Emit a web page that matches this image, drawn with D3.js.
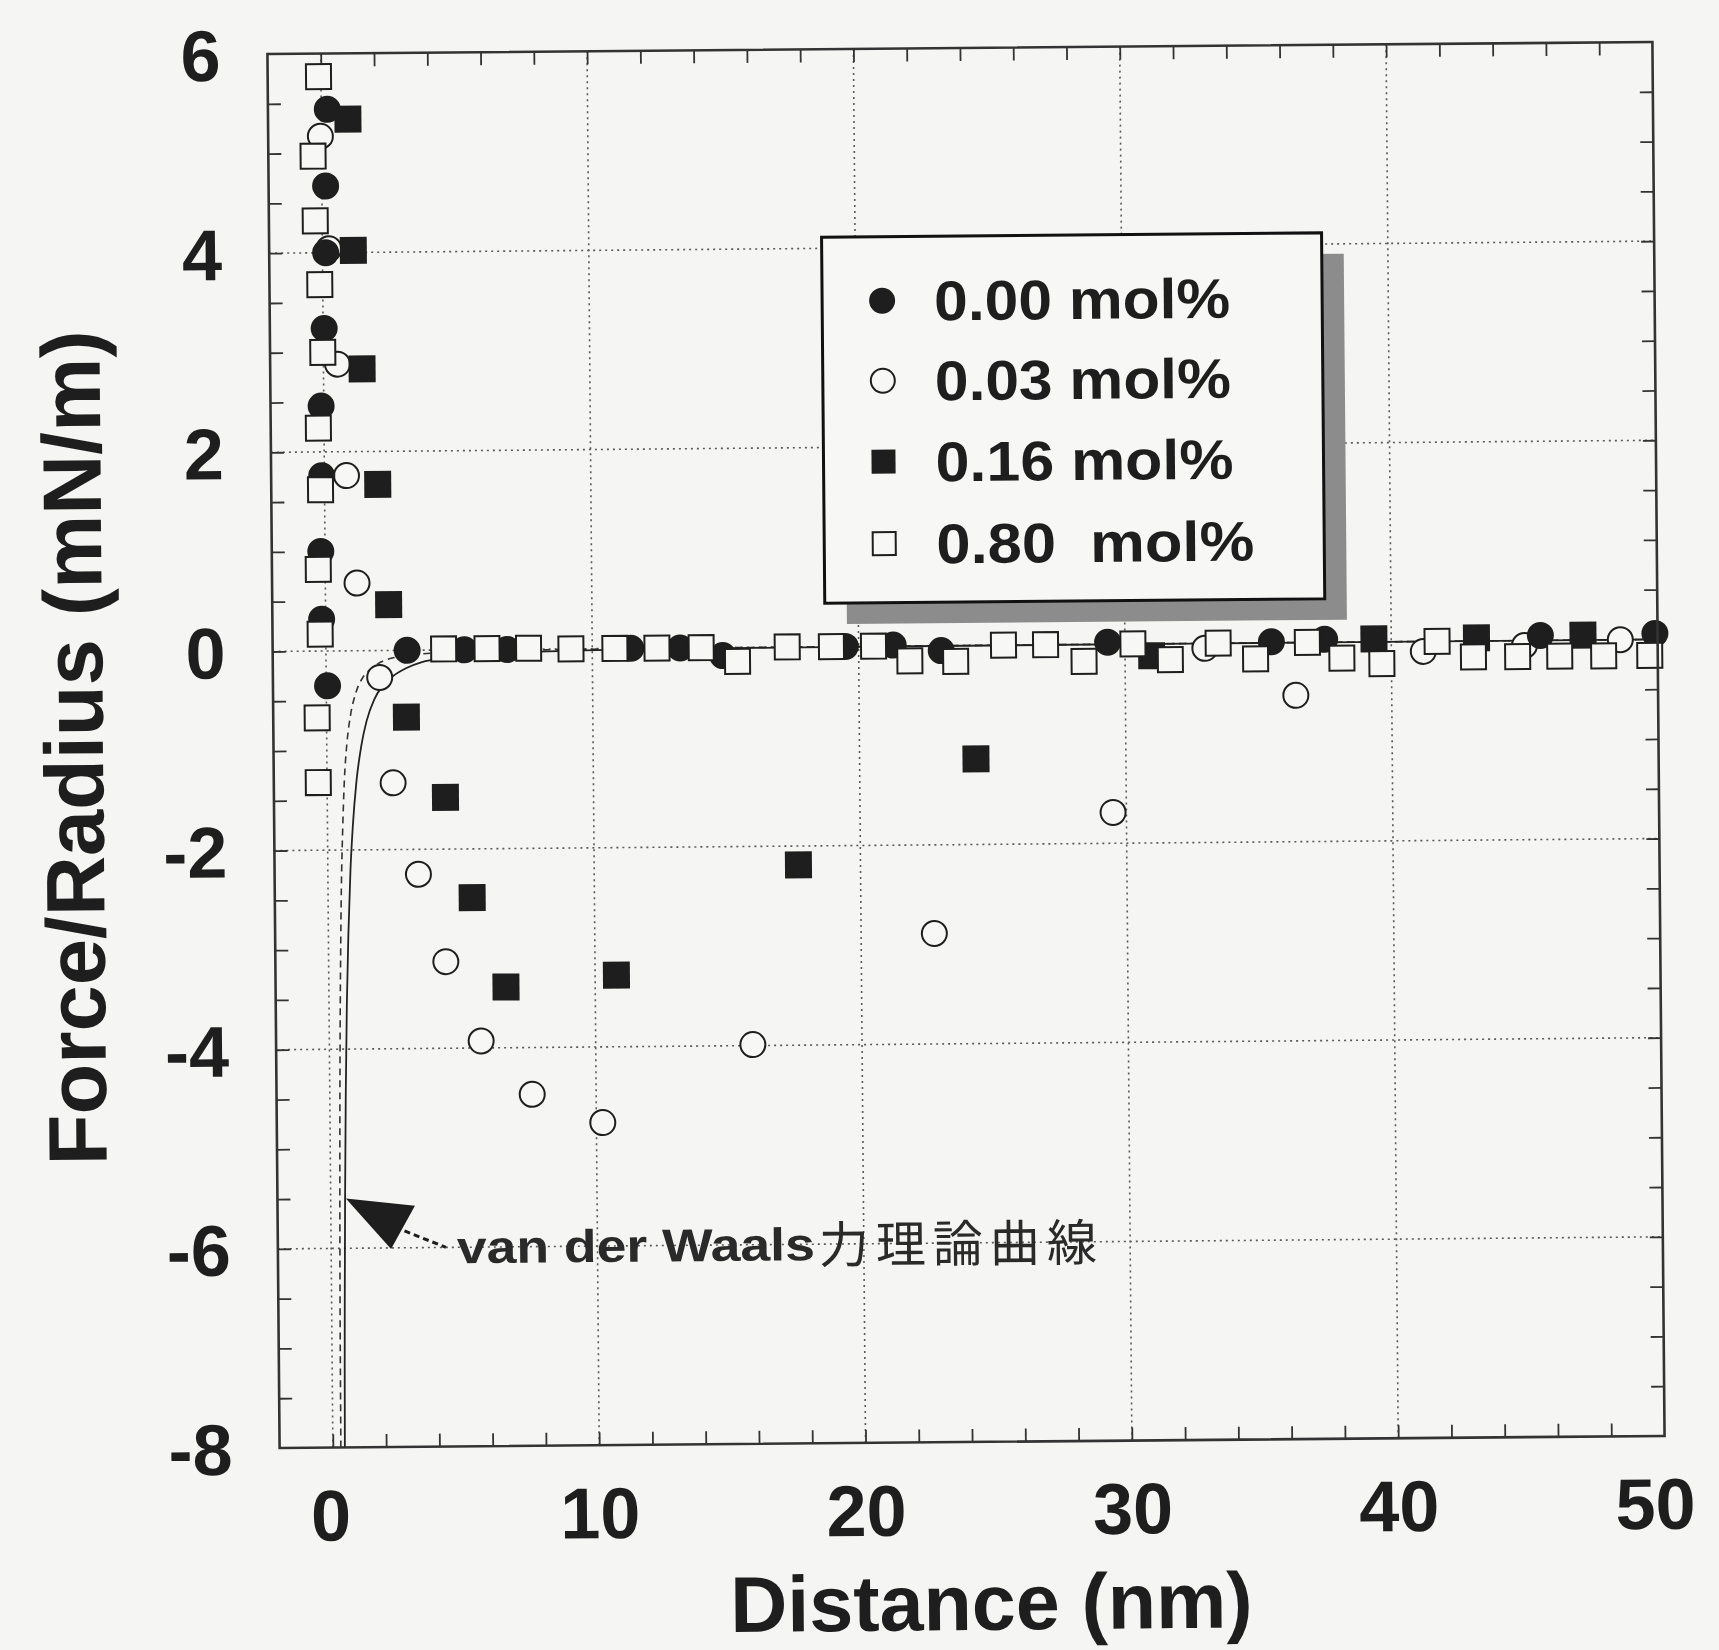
<!DOCTYPE html>
<html><head><meta charset="utf-8">
<script src="https://cdn.jsdelivr.net/npm/d3@7"></script>
<style>
html,body{margin:0;padding:0;background:#f5f5f3;}
svg{display:block;}
</style>
</head><body>
<svg id="chart" width="1719" height="1650"></svg>
<script>
// ---------------- data ----------------
const xTicks = [0, 10, 20, 30, 40, 50];
const yTicks = [-8, -6, -4, -2, 0, 2, 4, 6];
const xGrid = [0, 10, 20, 30, 40];
const yGrid = [-6, -4, -2, 0, 2, 4];
const xMinor = [0,2,4,6,8,10,12,14,16,18,20,22,24,26,28,30,32,34,36,38,40,42,44,46,48];
const yMinor = [-7.5,-7,-6.5,-6,-5.5,-5,-4.5,-4,-3.5,-3,-2.5,-2,-1.5,-1,-0.5,0,0.5,1,1.5,2,2.5,3,3.5,4,4.5,5,5.5];
const seriesNames = ["0.00 mol%", "0.03 mol%", "0.16 mol%", "0.80  mol%"];

// 0.00 mol% (filled circles)
const s000 = [[0.23,5.44],[0.14,4.67],[0.12,4.0],[0.04,3.24],[-0.1,2.46],[-0.1,1.76],[-0.16,1.0],[-0.15,0.32],[0.05,-0.35],
  [3.05,0.0],[5.2,0.0],[6.8,0.0],[11.45,0.0],[13.3,0.0],[14.9,-0.08],[19.5,0.0],[21.3,0.01],[23.1,-0.05],
  [29.35,0.02],[35.5,0.01],[37.5,0.03],[45.6,0.05],[49.9,0.06]];
// 0.03 mol% (open circles)
const s003 = [[-0.04,5.17],[0.24,4.04],[0.53,2.88],[0.83,1.76],[1.19,0.68],[2.01,-0.27],[2.48,-1.33],[3.4,-2.25],
  [4.4,-3.13],[5.7,-3.93],[7.6,-4.47],[10.24,-4.76],[15.9,-3.99],[22.75,-2.89],[29.5,-1.69],[33.0,-0.05],
  [36.4,-0.53],[41.2,-0.1],[45.0,-0.05],[48.6,0.0]];
// 0.16 mol% (filled squares)
const s016 = [[1.0,5.34],[1.16,4.02],[1.45,2.83],[2.0,1.67],[2.37,0.46],[3.0,-0.67],[4.44,-1.48],[5.41,-2.49],
  [6.65,-3.39],[10.8,-3.28],[17.67,-2.19],[24.37,-1.14],[31.0,-0.12],[39.35,0.03],[43.2,0.03],[47.2,0.05]];
// 0.80 mol% (open squares)
const s080 = [[-0.09,5.77],[-0.32,4.97],[-0.26,4.32],[-0.11,3.68],[-0.02,3.0],[-0.21,2.24],[-0.15,1.62],[-0.26,0.82],
  [-0.21,0.17],[-0.35,-0.67],[-0.33,-1.32],
  [4.42,0.01],[6.05,0.01],[7.61,0.01],[9.2,0.0],[10.85,0.0],[12.43,0.0],[14.09,0.0],[15.45,-0.14],[17.32,0.0],
  [18.98,0.0],[20.56,0.0],[21.92,-0.15],[23.64,-0.16],[25.44,0.0],[27.02,0.0],[28.46,-0.17],[30.3,0.0],
  [31.7,-0.16],[33.5,0.0],[34.9,-0.16],[36.85,0.0],[38.14,-0.16],[39.64,-0.22],[41.72,0.0],[43.08,-0.16],
  [44.74,-0.16],[46.32,-0.16],[47.97,-0.16],[49.7,-0.16]];
// van der Waals theoretical curves
const vdwSolid = [[0.45,-8],[0.47,-7.2],[0.5,-6.4],[0.54,-5.5],[0.6,-4.45],[0.67,-3.55],[0.75,-2.85],[0.85,-2.2],
  [0.95,-1.77],[1.1,-1.32],[1.3,-0.95],[1.5,-0.71],[1.8,-0.49],[2.1,-0.36],[2.5,-0.26],[3.0,-0.18],[3.6,-0.12],
  [4.5,-0.08],[6,-0.045],[8,-0.025],[12,-0.011],[20,-0.004],[35,-0.001],[50,0]];
const vdwDashed = [[0.3,-8],[0.31,-7],[0.33,-6],[0.36,-5],[0.4,-4],[0.45,-3.1],[0.5,-2.4],[0.57,-1.8],[0.65,-1.3],
  [0.75,-0.95],[0.9,-0.65],[1.1,-0.43],[1.35,-0.28],[1.7,-0.18],[2.2,-0.1],[3.0,-0.055],[4,-0.03],[6,-0.014],
  [10,-0.005],[20,-0.001],[50,0]];
// annotation (data coordinates)
const arrowHead = [[0.57,-5.5],[3.16,-5.58],[2.25,-6.01]];
const arrowTail = [[2.76,-5.83],[4.31,-6.0]];
const annoPos = [4.72, -6.16];
const annoLatin = "van der Waals";
const annoCJK = "力理論曲線";

// ---------------- layout ----------------
const P = {l: 273.5, r: 1658.5, t: 48, b: 1442};
const INK = "#1e1e1e";
const FONT = "'Liberation Sans', Arial, Helvetica, sans-serif";

const x = d3.scaleLinear().domain([-2, 50]).range([P.l, P.r]);
const y = d3.scaleLinear().domain([-8, 6]).range([P.b, P.t]);

const svg = d3.select("#chart");
svg.append("rect").attr("width",1719).attr("height",1650).attr("fill","#f5f5f3");

const g = svg.append("g").attr("transform", "rotate(-0.5 966 745)");

svg.append("defs").append("clipPath").attr("id","plotclip")
  .append("rect").attr("x",P.l).attr("y",P.t).attr("width",P.r-P.l).attr("height",P.b-P.t);

// grid
g.append("g").selectAll("line").data(xGrid).join("line")
  .attr("x1", d=>x(d)).attr("x2", d=>x(d)).attr("y1", P.t).attr("y2", P.b)
  .attr("stroke","#5a5a5a").attr("stroke-width",1.6).attr("stroke-dasharray","2 4");
g.append("g").selectAll("line").data(yGrid).join("line")
  .attr("y1", d=>y(d)).attr("y2", d=>y(d)).attr("x1", P.l).attr("x2", P.r)
  .attr("stroke","#5a5a5a").attr("stroke-width",1.6).attr("stroke-dasharray","2 4");

// ticks (inward, all four sides)
function styleTicks(sel){
  sel.select(".domain").remove();
  sel.selectAll("line").attr("stroke","#333").attr("stroke-width",1.8);
}
g.append("g").attr("transform",`translate(0,${P.b})`)
  .call(d3.axisBottom(x).tickValues(xMinor).tickSize(-13).tickFormat("")).call(styleTicks);
g.append("g").attr("transform",`translate(0,${P.t})`)
  .call(d3.axisTop(x).tickValues(xMinor).tickSize(-13).tickFormat("")).call(styleTicks);
g.append("g").attr("transform",`translate(${P.l},0)`)
  .call(d3.axisLeft(y).tickValues(yMinor).tickSize(-13).tickFormat("")).call(styleTicks);
g.append("g").attr("transform",`translate(${P.r},0)`)
  .call(d3.axisRight(y).tickValues(yMinor).tickSize(-13).tickFormat("")).call(styleTicks);

// tick labels
const xl = g.append("g").attr("transform",`translate(0,${P.b})`)
  .call(d3.axisBottom(x).tickValues(xTicks).tickSize(0).tickFormat(d3.format("d")));
xl.select(".domain").remove();
xl.selectAll("text").attr("y", 93).attr("dy", 0)
  .attr("dx", d => d === 50 ? -10 : (d === 0 ? -3 : 0))
  .attr("font-family", FONT).attr("font-weight","bold").attr("font-size", 72).attr("fill", INK);

const yl = g.append("g").attr("transform",`translate(${P.l},0)`)
  .call(d3.axisLeft(y).tickValues(yTicks).tickSize(0).tickFormat(d => String(d)));
yl.select(".domain").remove();
yl.selectAll("text").attr("x", -47).attr("dy", "0.36em")
  .attr("font-family", FONT).attr("font-weight","bold").attr("font-size", 72).attr("fill", INK);

// axis titles
g.append("text").attr("x", 984).attr("y", 1630).attr("text-anchor","middle")
  .attr("font-family", FONT).attr("font-weight","bold").attr("font-size", 79).attr("fill", INK)
  .text("Distance (nm)");
g.append("text").attr("transform","translate(103,740) rotate(-90)").attr("text-anchor","middle")
  .attr("font-family", FONT).attr("font-weight","bold").attr("font-size", 83).attr("fill", INK)
  .text("Force/Radius (mN/m)");

// vdW curves
const line = d3.line().x(d=>x(d[0])).y(d=>y(d[1])).curve(d3.curveMonotoneX);
const curves = g.append("g").attr("clip-path","url(#plotclip)");
curves.append("path").datum(vdwDashed).attr("d", line).attr("fill","none")
  .attr("stroke","#333").attr("stroke-width",1.6).attr("stroke-dasharray","7 5");
curves.append("path").datum(vdwSolid).attr("d", line).attr("fill","none")
  .attr("stroke","#222").attr("stroke-width",1.8);

// markers
const MS = 27;
const mk = g.append("g");
function circles(data, filled){
  mk.append("g").selectAll("circle").data(data).join("circle")
    .attr("cx", d=>x(d[0])).attr("cy", d=>y(d[1])).attr("r", MS/2 - (filled?0:1))
    .attr("fill", filled ? INK : "#f7f7f5").attr("stroke", INK).attr("stroke-width", filled?0:2);
}
function squares(data, filled){
  const s = filled ? MS : MS - 2;
  mk.append("g").selectAll("rect").data(data).join("rect")
    .attr("x", d=>x(d[0]) - s/2).attr("y", d=>y(d[1]) - s/2).attr("width", s).attr("height", s)
    .attr("fill", filled ? INK : "#f7f7f5").attr("stroke", INK).attr("stroke-width", filled?0:2);
}
circles(s003, false);
circles(s000, true);
squares(s016, true);
squares(s080, false);

// legend
const LG = {x: 826, y: 236, w: 500, h: 366};
const lg = g.append("g");
lg.append("rect").attr("x", LG.x+22).attr("y", LG.y+21).attr("width", LG.w).attr("height", LG.h)
  .attr("fill","#8c8c8c");
lg.append("rect").attr("x", LG.x).attr("y", LG.y).attr("width", LG.w).attr("height", LG.h)
  .attr("fill","#f7f7f5").attr("stroke","#111").attr("stroke-width",3);
const rowY = [64, 144, 225, 307];
const rowW = [296, 296, 298, 318];
const legendShapes = ["fcircle","ocircle","fsquare","osquare"];
seriesNames.forEach((name, i) => {
  const cy = LG.y + rowY[i], cx = 886, s = 26;
  const shp = legendShapes[i];
  if (shp.endsWith("circle")) {
    lg.append("circle").attr("cx", cx).attr("cy", cy).attr("r", shp[0]==="f" ? s/2 : s/2 - 1)
      .attr("fill", shp[0]==="f" ? INK : "#f7f7f5").attr("stroke", INK).attr("stroke-width", shp[0]==="f"?0:2);
  } else {
    const ss = shp[0]==="f" ? s - 2 : s - 3;
    lg.append("rect").attr("x", cx-ss/2).attr("y", cy-ss/2).attr("width", ss).attr("height", ss)
      .attr("fill", shp[0]==="f" ? INK : "#f7f7f5").attr("stroke", INK).attr("stroke-width", shp[0]==="f"?0:2);
  }
  lg.append("text").attr("x", 938).attr("y", cy + 20)
    .attr("font-family", FONT).attr("font-weight","bold").attr("font-size", 56).attr("fill", INK)
    .attr("textLength", rowW[i]).attr("lengthAdjust","spacingAndGlyphs")
    .attr("xml:space","preserve").style("white-space","pre")
    .text(name);
});

// annotation
const an = g.append("g");
an.append("path").datum(arrowHead)
  .attr("d", d => "M" + d.map(p => x(p[0]) + "," + y(p[1])).join("L") + "Z")
  .attr("fill", INK);
an.append("path").datum(arrowTail)
  .attr("d", d => "M" + d.map(p => x(p[0]) + "," + y(p[1])).join("L"))
  .attr("stroke", INK).attr("stroke-width", 3).attr("stroke-dasharray","6 4").attr("fill","none");
const ax0 = x(annoPos[0]), ay0 = y(annoPos[1]);
an.append("text").attr("x", ax0).attr("y", ay0)
  .attr("font-family", FONT).attr("font-weight","bold").attr("font-size", 46).attr("fill", "#2a2a2a")
  .attr("textLength", 358).attr("lengthAdjust","spacingAndGlyphs").text(annoLatin);
an.append("text").attr("x", ax0 + 362).attr("y", ay0 + 3)
  .attr("font-family", "'Noto Sans CJK JP', 'Noto Sans CJK SC', sans-serif").attr("font-size", 50).attr("fill", "#2a2a2a")
  .attr("textLength", 278).attr("lengthAdjust","spacing").text(annoCJK);

// frame
g.append("rect").attr("x", P.l).attr("y", P.t).attr("width", P.r-P.l).attr("height", P.b-P.t)
  .attr("fill","none").attr("stroke","#333").attr("stroke-width",2.6);
</script>
</body></html>
